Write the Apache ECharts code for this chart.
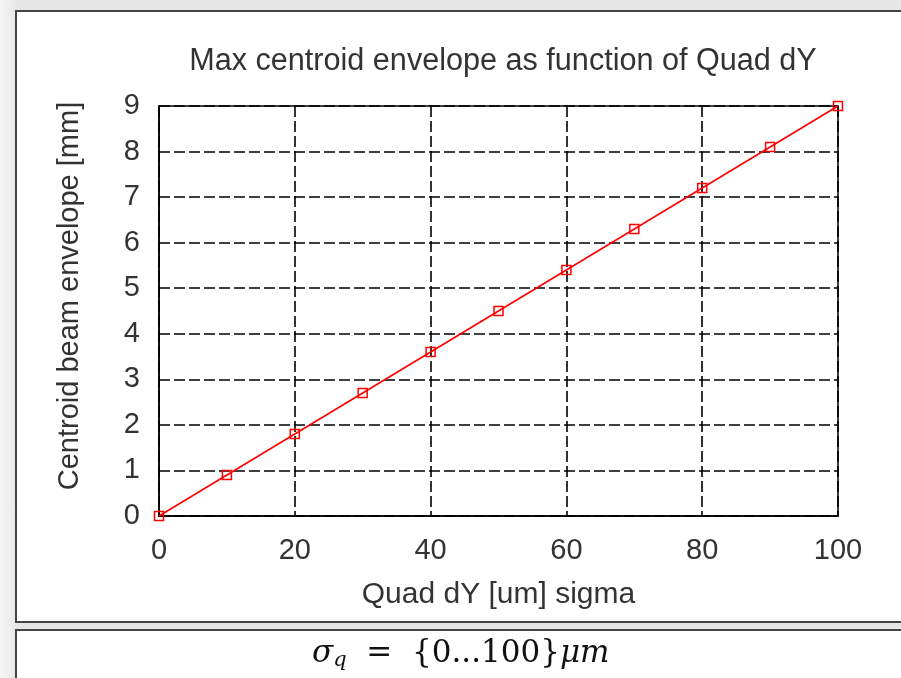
<!DOCTYPE html>
<html>
<head>
<meta charset="utf-8">
<script src="https://cdn.jsdelivr.net/npm/echarts@6/dist/echarts.min.js"></script>
<style>
html,body{margin:0;padding:0;background:#e6e6e6;}
#chart{width:901px;height:678px;background:linear-gradient(to right,#f6f6f6 0px,#e9e9e9 15px,#e6e6e6 16px);}
</style>
</head>
<body>
<div id="chart"></div>
<script>
const titleText = 'Max centroid envelope as function of Quad dY';
const xName = 'Quad dY [um] sigma';
const yName = 'Centroid beam envelope [mm]';
const xValues = [0, 10, 20, 30, 40, 50, 60, 70, 80, 90, 100];
const yValues = [0, 0.9, 1.8, 2.7, 3.6, 4.5, 5.4, 6.3, 7.2, 8.1, 9.0];
const xTicks = [0, 20, 40, 60, 80, 100];
const yTicks = [0, 1, 2, 3, 4, 5, 6, 7, 8, 9];

const FONT = "'Liberation Sans', Arial, sans-serif";
const SERIF = "'DejaVu Serif', 'Liberation Serif', serif";
const chart = echarts.init(document.getElementById('chart'), null, {renderer: 'canvas'});
const data = xValues.map((x, i) => [x, yValues[i]]);

chart.setOption({
  animation: false,
  backgroundColor: 'transparent',
  graphic: [
    {type: 'rect', z: -10, shape: {x: 16, y: 11, width: 900, height: 611},
     style: {fill: '#ffffff', stroke: '#444444', lineWidth: 2}},
    {type: 'rect', z: -10, shape: {x: 16, y: 630, width: 900, height: 80},
     style: {fill: '#ffffff', stroke: '#444444', lineWidth: 2}},
    {type: 'text', z: 10, left: 312, top: 638,
     style: {
       text: '{i|σ}{s|q}  =  {0...100}{i|μm}',
       fontFamily: SERIF, fontSize: 31, fill: '#111',
       rich: {
         i: {fontFamily: SERIF, fontStyle: 'italic', fontSize: 31, fill: '#111'},
         s: {fontFamily: SERIF, fontStyle: 'italic', fontSize: 21, fill: '#111', padding: [14, 0, 0, 0]}
       }
     }}
  ],
  title: {
    text: titleText,
    left: 498,
    textAlign: 'center',
    top: 41,
    textStyle: {fontFamily: FONT, fontSize: 30.6, fontWeight: 'normal', color: '#333'}
  },
  grid: {
    left: 159, top: 106, right: 63, bottom: 162,
    show: true, borderColor: '#000', borderWidth: 1.5, backgroundColor: 'transparent'
  },
  xAxis: {
    type: 'value', min: 0, max: 100, interval: 20,
    name: xName, nameLocation: 'middle', nameGap: 64,
    nameTextStyle: {fontFamily: FONT, fontSize: 30, color: '#333'},
    axisLine: {show: true, lineStyle: {color: '#000', width: 1.5}},
    axisTick: {show: false},
    axisLabel: {fontFamily: FONT, fontSize: 29, color: '#333', margin: 20,
      formatter: v => xTicks.includes(v) ? String(v) : ''},
    splitLine: {show: true, lineStyle: {color: '#000', width: 1.6, type: [11, 4]}}
  },
  yAxis: {
    type: 'value', min: 0, max: 9, interval: 1,
    name: yName, nameLocation: 'middle', nameGap: 75, nameRotate: 90,
    nameTextStyle: {fontFamily: FONT, fontSize: 29, color: '#333', padding: [0, 0, 0, 30]},
    axisLine: {show: true, lineStyle: {color: '#000', width: 1.5}},
    axisTick: {show: false},
    axisLabel: {fontFamily: FONT, fontSize: 29, color: '#333', margin: 19,
      formatter: v => yTicks.includes(v) ? String(v) : ''},
    splitLine: {show: true, lineStyle: {color: '#000', width: 1.6, type: [11, 4]}}
  },
  series: [{
    type: 'line',
    data: data,
    clip: false,
    symbol: 'rect',
    symbolSize: 9,
    showAllSymbol: true,
    lineStyle: {color: '#ff0000', width: 1.6},
    itemStyle: {color: 'rgba(255,255,255,0)', borderColor: '#ff0000', borderWidth: 1.5},
    z: 5
  }]
});
</script>
</body>
</html>
